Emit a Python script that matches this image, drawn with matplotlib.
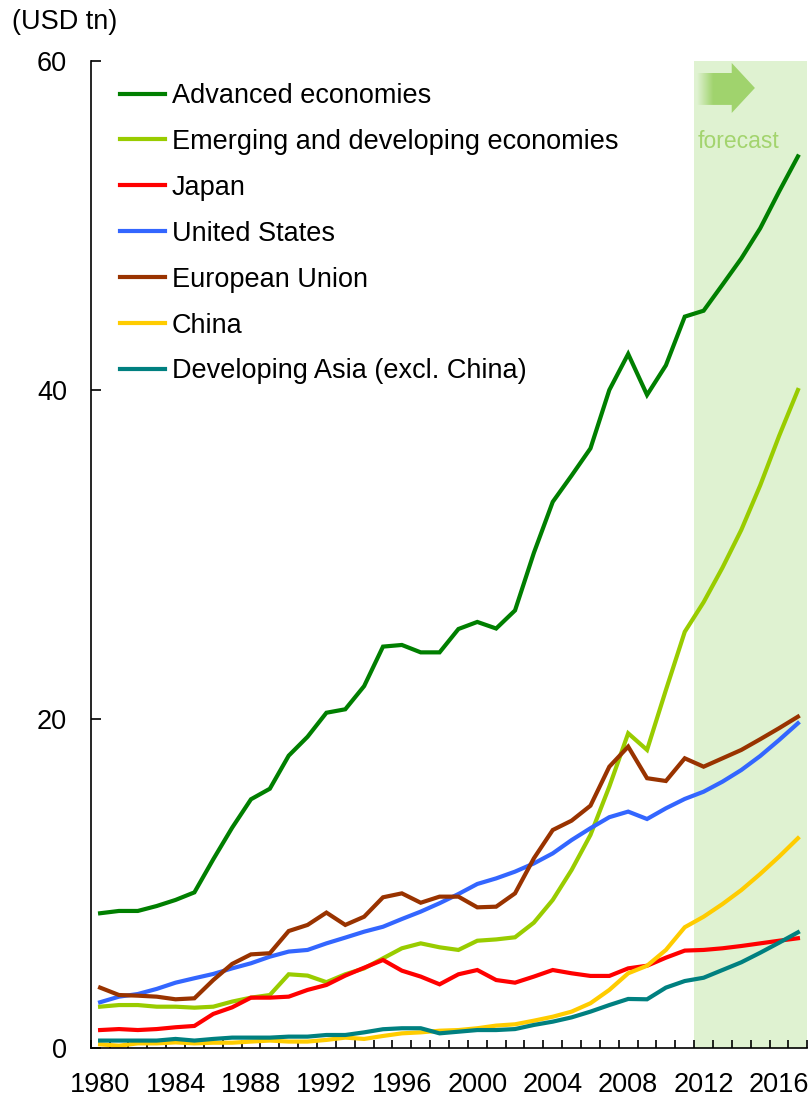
import matplotlib
matplotlib.use("Agg")
import matplotlib.pyplot as plt
import numpy as np
from matplotlib.patches import Polygon

plt.rcParams["font.family"] = ["Liberation Sans", "DejaVu Sans"]

years = list(range(1980, 2018))

advanced = [8.19, 8.33, 8.33, 8.63, 9.0, 9.46, 11.47, 13.39, 15.12, 15.76,
            17.77, 18.92, 20.38, 20.59, 22.0, 24.4, 24.5, 24.05, 24.05, 25.47,
            25.9, 25.5, 26.6, 30.1, 33.2, 34.8, 36.45, 40.0, 42.19, 39.7,
            41.5, 44.46, 44.82, 46.4, 48.0, 49.83, 52.06, 54.2]
emerging = [2.51, 2.61, 2.61, 2.51, 2.51, 2.45, 2.51, 2.82, 3.06, 3.22,
            4.48, 4.40, 4.0, 4.48, 4.84, 5.45, 6.06, 6.36, 6.12, 5.96,
            6.52, 6.6, 6.73, 7.62, 9.0, 10.82, 12.95, 15.89, 19.13, 18.12,
            21.76, 25.3, 27.1, 29.2, 31.5, 34.2, 37.2, 40.0]
japan = [1.09, 1.15, 1.09, 1.15, 1.26, 1.34, 2.07, 2.47, 3.06, 3.06,
         3.12, 3.53, 3.83, 4.40, 4.88, 5.35, 4.70, 4.34, 3.87, 4.48,
         4.74, 4.13, 3.97, 4.34, 4.74, 4.54, 4.38, 4.38, 4.84, 5.0,
         5.49, 5.92, 5.96, 6.06, 6.2, 6.36, 6.52, 6.67]
usa = [2.78, 3.12, 3.28, 3.59, 3.97, 4.24, 4.5, 4.84, 5.15, 5.55,
       5.86, 5.96, 6.36, 6.71, 7.07, 7.37, 7.84, 8.29, 8.8, 9.36,
       9.97, 10.31, 10.72, 11.22, 11.83, 12.64, 13.36, 14.03, 14.37, 13.92,
       14.57, 15.14, 15.58, 16.19, 16.9, 17.75, 18.72, 19.74]
eu = [3.67, 3.22, 3.18, 3.12, 2.96, 3.02, 4.13, 5.11, 5.69, 5.76,
      7.11, 7.48, 8.23, 7.48, 7.98, 9.16, 9.4, 8.83, 9.2, 9.2,
      8.55, 8.59, 9.4, 11.53, 13.25, 13.82, 14.73, 17.1, 18.32, 16.4,
      16.23, 17.61, 17.1, 17.61, 18.12, 18.77, 19.44, 20.14]
china = [0.22, 0.14, 0.28, 0.28, 0.34, 0.28, 0.32, 0.32, 0.39, 0.45,
         0.39, 0.39, 0.49, 0.63, 0.55, 0.73, 0.89, 0.95, 1.05, 1.09,
         1.2, 1.36, 1.44, 1.66, 1.9, 2.21, 2.72, 3.53, 4.54, 5.0,
         5.96, 7.34, 7.98, 8.75, 9.6, 10.58, 11.63, 12.75]
dev_asia = [0.45, 0.45, 0.45, 0.45, 0.55, 0.45, 0.55, 0.63, 0.63, 0.63,
            0.69, 0.69, 0.79, 0.79, 0.95, 1.14, 1.2, 1.2, 0.89, 0.99,
            1.09, 1.09, 1.15, 1.4, 1.6, 1.86, 2.21, 2.61, 2.98, 2.96,
            3.67, 4.07, 4.27, 4.74, 5.21, 5.79, 6.4, 7.03]

series = [
    ("Advanced economies", advanced, "#007F00"),
    ("Emerging and developing economies", emerging, "#99CC00"),
    ("Japan", japan, "#FF0000"),
    ("United States", usa, "#3366FF"),
    ("European Union", eu, "#993300"),
    ("China", china, "#FFCC00"),
    ("Developing Asia (excl. China)", dev_asia, "#008080"),
]

forecast_start = 2011.5
label_years = list(range(1980, 2017, 4))

fig = plt.figure(figsize=(8.11, 11.05), dpi=100)
ax = fig.add_axes([0.1118, 0.0516, 0.8837, 0.8932])

# forecast shading
ax.axvspan(forecast_start, 2017.5, color="#DFF2D1", lw=0, zorder=0)

for name, vals, col in series:
    ax.plot(years, vals, color=col, lw=3.0, label=name, zorder=3,
            solid_joinstyle="miter")

ax.set_xlim(1979.5, 2017.5)
ax.set_ylim(0, 60)

# arrow in the forecast box, fading in from the left
arrow_col = np.array([0.63, 0.83, 0.43])
pts = [(2011.65, 57.33), (2013.49, 57.33), (2013.49, 56.84), (2014.72, 58.36),
       (2013.49, 59.88), (2013.49, 59.27), (2011.65, 59.27)]
arrow = Polygon(pts, closed=True, facecolor="none", edgecolor="none")
ax.add_patch(arrow)
grad = np.linspace(0, 1, 200)
fade = np.clip(grad / 0.28, 0, 1)
img = np.zeros((2, 200, 4))
img[..., :3] = arrow_col
img[..., 3] = fade
im = ax.imshow(img, extent=(2011.65, 2014.72, 56.84, 59.88), aspect="auto",
               interpolation="bilinear", zorder=2)
im.set_clip_path(arrow)
ax.text(2011.7, 55.1, "forecast", color="#A3D46E", fontsize=16.5,
        va="center", ha="left", zorder=4)

ax.spines["top"].set_visible(False)
ax.spines["right"].set_visible(False)
for s in ("left", "bottom"):
    ax.spines[s].set_linewidth(1.2)
    ax.spines[s].set_zorder(5)

ax.set_yticks([0, 20, 40, 60])
ax.tick_params(axis="y", direction="in", length=7, width=1.2, pad=17,
               labelsize=19.5)
ax.set_xticks(label_years)
ax.set_xticklabels([str(y) for y in label_years])
ax.set_xticks(np.arange(1979.5, 2018, 1.0), minor=True)
ax.tick_params(axis="x", which="major", length=0, pad=17, labelsize=19.5)
ax.tick_params(axis="x", which="minor", direction="in", length=6, width=1.2)

fig.text(12 / 811, 1 - 22 / 1105, "(USD tn)", fontsize=19.5, va="center",
         ha="left")

ax.legend(loc="upper left", bbox_to_anchor=(120 / 811, 1 - 83 / 1105),
          bbox_transform=fig.transFigure, frameon=False, fontsize=19.5,
          handlelength=1.65, handletextpad=0.26, labelspacing=0.735,
          borderpad=0, borderaxespad=0)

fig.savefig("out.png", dpi=100)
